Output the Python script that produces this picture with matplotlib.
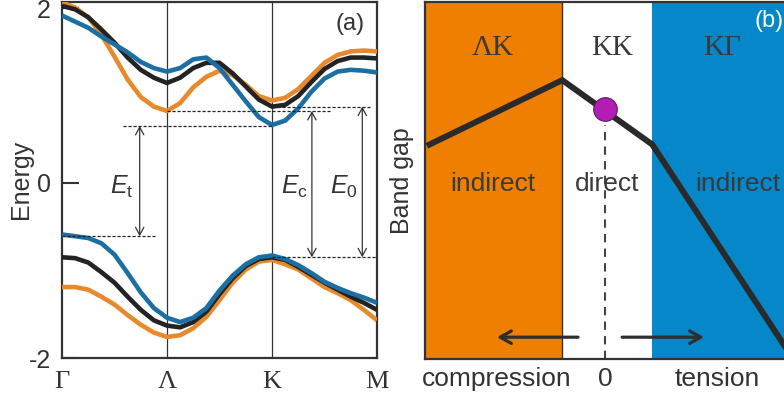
import matplotlib
matplotlib.use("Agg")
import matplotlib.pyplot as plt

plt.rcParams['font.family'] = ['Liberation Sans', 'DejaVu Sans']
plt.rcParams['mathtext.fontset'] = 'custom'
plt.rcParams['mathtext.rm'] = 'Liberation Sans'
plt.rcParams['mathtext.it'] = 'Liberation Sans:italic'

# ---- panel (a): band structure along Γ-Λ-K-M ----
k_path = [0, 0.125, 0.25, 0.375, 0.5, 0.625, 0.75, 0.875, 1.0,
          1.125, 1.25, 1.375, 1.5, 1.625, 1.75, 1.875, 2.0,
          2.125, 2.25, 2.375, 2.5, 2.625, 2.75, 2.875, 3.0]
k_ticks = [0, 1, 2, 3]
k_labels = ["Γ", "Λ", "K", "M"]

cb_black = [2.02, 1.98, 1.89, 1.75, 1.60, 1.43, 1.29, 1.20, 1.14,
            1.20, 1.31, 1.37, 1.37, 1.25, 1.10, 0.95, 0.87,
            0.89, 0.99, 1.15, 1.30, 1.39, 1.43, 1.43, 1.42]
cb_blue = [1.91, 1.84, 1.77, 1.67, 1.58, 1.49, 1.38, 1.31, 1.27,
           1.31, 1.41, 1.43, 1.31, 1.12, 0.93, 0.75, 0.66,
           0.71, 0.85, 1.04, 1.19, 1.27, 1.29, 1.28, 1.26]
cb_orange = [2.06, 2.00, 1.89, 1.69, 1.44, 1.18, 0.98, 0.87, 0.82,
             0.91, 1.09, 1.21, 1.28, 1.23, 1.12, 0.99, 0.94,
             0.97, 1.07, 1.22, 1.37, 1.46, 1.50, 1.51, 1.50]
vb_black = [-0.85, -0.86, -0.91, -1.02, -1.14, -1.30, -1.45, -1.57, -1.63,
            -1.65, -1.59, -1.47, -1.27, -1.09, -0.95, -0.87, -0.85,
            -0.88, -0.96, -1.05, -1.14, -1.22, -1.30, -1.37, -1.45]
vb_blue = [-0.59, -0.61, -0.63, -0.69, -0.82, -1.03, -1.25, -1.43, -1.54,
           -1.59, -1.54, -1.43, -1.23, -1.06, -0.93, -0.85, -0.83,
           -0.87, -0.94, -1.03, -1.13, -1.20, -1.26, -1.31, -1.37]
vb_orange = [-1.19, -1.19, -1.22, -1.30, -1.39, -1.51, -1.62, -1.71, -1.76,
             -1.74, -1.66, -1.53, -1.34, -1.14, -0.99, -0.90, -0.88,
             -0.93, -0.99, -1.09, -1.19, -1.26, -1.34, -1.45, -1.57]

# reference levels (energy, k start, k end)
dash_levels = [0.82, 0.65, 0.87, -0.61, -0.85]
dash_k0 = [1.0, 0.58, 2.0, 0.0, 2.0]
dash_k1 = [2.55, 2.0, 2.93, 0.89, 3.0]

# gap arrows
gap_names = [r"$E_\mathrm{t}$", r"$E_\mathrm{c}$", r"$E_0$"]
gap_k = [0.74, 2.38, 2.86]
gap_top = [0.65, 0.82, 0.87]
gap_bot = [-0.61, -0.85, -0.85]
gap_label_k = [0.57, 2.21, 2.68]

# ---- panel (b): band gap vs strain ----
strain = [-3.9, -0.95, 1.05, 4.0]
band_gap = [0.60, 0.78, 0.60, 0.035]
region_edges = [-4.0, -0.95, 1.05, 4.2]
region_names = ["ΛK", "KK", "KΓ"]
region_kind = ["indirect", "direct", "indirect"]
region_center = [-2.5, 0.15, 2.6]
kind_center = [-2.5, 0.05, 2.95]
region_colors = ["#EF7F00", "white", "#0587C9"]
gap_at_zero = 0.70
strain_ticks = [-2.4, 0, 2.5]
strain_labels = ["compression", "0", "tension"]

W, H = 784, 401
fig = plt.figure(figsize=(W / 100, H / 100), dpi=100)

spine_col = "#333333"
c_black, c_blue, c_orange = "#232323", "#1C6FA3", "#E88A2C"

# ---------------- (a) ----------------
ax = fig.add_axes([62 / W, 43 / H, 315 / W, 356.5 / H])
for yb, col in [(cb_orange, c_orange), (cb_black, c_black), (cb_blue, c_blue),
                (vb_orange, c_orange), (vb_black, c_black), (vb_blue, c_blue)]:
    ax.plot(k_path, yb, color=col, lw=3.3, solid_capstyle="butt", zorder=3)

for kk in k_ticks[1:3]:
    ax.axvline(kk, color=spine_col, lw=0.9, zorder=2)

for lev, a, b in zip(dash_levels, dash_k0, dash_k1):
    ax.plot([a, b], [lev, lev], color="#222222", lw=0.9, ls=(0, (2.5, 1.5)), zorder=4)

for name, kx, t, bt, lk in zip(gap_names, gap_k, gap_top, gap_bot, gap_label_k):
    ax.annotate("", xy=(kx, t), xytext=(kx, bt),
                arrowprops=dict(arrowstyle="<->,head_length=0.55,head_width=0.3",
                                color="#333333", lw=0.9, shrinkA=0, shrinkB=0))
    ax.text(lk, -0.05, name, fontsize=18, ha="center", va="center", color="#333333")

ax.text(2.74, 1.81, "(a)", fontsize=17, ha="center", va="center", color="#333333")

ax.set_xlim(0, 3)
ax.set_ylim(-2, 2.07)
ax.set_xticks(k_ticks)
ax.set_xticklabels(k_labels, family="Liberation Serif", fontsize=19)
ax.set_yticks([-2, 0, 2])
ax.set_yticklabels(["-2", "0", ""], fontsize=18)
# top label "2" sits just below its tick so it stays inside the figure
ax.annotate("2", xy=(0, 2), xycoords="data", xytext=(-8, -7.5),
            textcoords="offset points", ha="right", va="baseline",
            fontsize=18, color="#333333", annotation_clip=False)
ax.tick_params(axis="x", length=0, pad=9, colors="#333333")
ax.tick_params(axis="y", direction="in", length=12, width=1.5, pad=8, colors="#333333")
ax.set_ylabel("Energy", fontsize=18, color="#333333", labelpad=-3)
for s in ax.spines.values():
    s.set_color(spine_col)
    s.set_linewidth(1.6)

# ---------------- (b) ----------------
bx = fig.add_axes([425 / W, 42 / H, 360 / W, 357.5 / H])
for i in range(3):
    bx.axvspan(region_edges[i], region_edges[i + 1], color=region_colors[i], lw=0, zorder=0)
    bx.text(region_center[i], 0.87, region_names[i], family="Liberation Serif",
            fontsize=21, ha="center", va="center", color="#3a3a3a")
    bx.text(kind_center[i], 0.49, region_kind[i], fontsize=19,
            ha="center", va="center", color="#3a3a3a")
bx.axvline(region_edges[1], color=spine_col, lw=1.0, zorder=1)

bx.plot([0, 0], [0, 0.655], color="#444444", lw=1.5, ls=(0, (4, 3)), zorder=2)
bx.plot(strain, band_gap, color="#2a2a2a", lw=4.3, solid_joinstyle="miter", zorder=3)
bx.plot([0], [gap_at_zero], "o", ms=17, mfc="#B41DB4", mec="#5a1a5a", mew=0.8, zorder=4)

arrow_kw = dict(arrowstyle="->,head_length=0.8,head_width=0.45", color="#2e2e2e",
                lw=2.3, shrinkA=0, shrinkB=0)
bx.annotate("", xy=(-2.4, 0.061), xytext=(-0.6, 0.061), arrowprops=arrow_kw)
bx.annotate("", xy=(2.2, 0.061), xytext=(0.38, 0.061), arrowprops=arrow_kw)

bx.text(3.97, 0.945, "(b)", fontsize=17, ha="right", va="center", color="white")

bx.set_xlim(-4, 4)
bx.set_ylim(0, 1)
bx.set_xticks(strain_ticks)
bx.set_xticklabels(strain_labels, fontsize=19)
bx.set_yticks([])
bx.tick_params(axis="x", length=0, pad=6, colors="#333333")
bx.set_ylabel("Band gap", fontsize=18, color="#333333", labelpad=8)
for s in bx.spines.values():
    s.set_color(spine_col)
    s.set_linewidth(1.6)
bx.spines["right"].set_visible(False)

fig.savefig("out.png", dpi=100)
